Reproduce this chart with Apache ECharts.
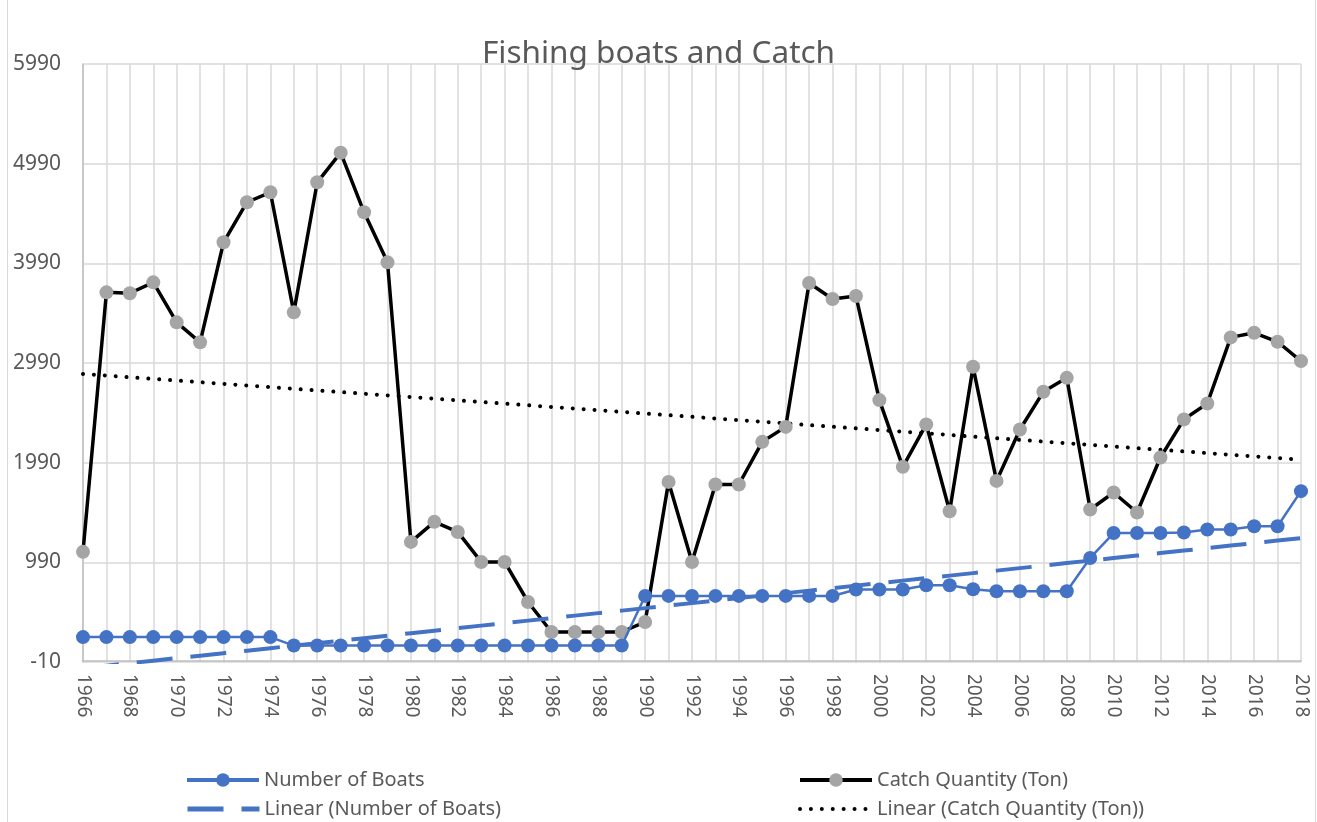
<!DOCTYPE html>
<html>
<head>
<meta charset="utf-8">
<script src="https://cdn.jsdelivr.net/npm/echarts@6/dist/echarts.min.js"></script>
<style>
  html, body { margin: 0; padding: 0; background: #fff; }
  #main { width: 1317px; height: 822px; }
</style>
</head>
<body>
<div id="main"></div>
<script>
// data
var years = [];
for (var y = 1966; y <= 2018; y++) years.push(String(y));

var boats = [
  240, 240, 240, 240, 240, 240, 240, 240, 240,
  155, 155, 155, 155, 155, 155, 155, 155, 155, 155, 155, 155, 155, 155, 155,
  653, 653, 653, 653, 653, 653, 653, 653, 653,
  717, 717, 717, 760, 760, 720, 700, 700, 700, 700,
  1034, 1284, 1284, 1284, 1290, 1320, 1320, 1352, 1352, 1704
];

var catchTon = [
  1095, 3699, 3690, 3799, 3398, 3197, 4201, 4603, 4703, 3498,
  4803, 5100, 4502, 4000, 1195, 1396, 1295, 994, 994, 592,
  291, 291, 291, 291, 392, 1797, 994, 1771, 1771, 2199,
  2349, 3792, 3632, 3662, 2618, 1948, 2374, 1503, 2952, 1807,
  2323, 2701, 2841, 1520, 1691, 1490, 2042, 2424, 2584, 3247,
  3293, 3203, 3009
];

// least squares trend, x = 1..n like the spreadsheet does
function linearTrend(vals) {
  var n = vals.length, sx = 0, sy = 0, sxy = 0, sxx = 0;
  for (var i = 0; i < n; i++) {
    var x = i + 1;
    sx += x; sy += vals[i]; sxy += x * vals[i]; sxx += x * x;
  }
  var b = (n * sxy - sx * sy) / (n * sxx - sx * sx);
  var a = (sy - b * sx) / n;
  return vals.map(function (v, i) { return a + b * (i + 1); });
}

var boatsTrend = linearTrend(boats);
var catchTrend = linearTrend(catchTon);

var txt = '#595959';
var fnt = '"Noto Sans", sans-serif';

var myChart = echarts.init(document.getElementById('main'));

function legendAt(name, left, top, lineW, hideSymbol) {
  var lg = {
    data: [name],
    left: left,
    top: top,
    itemWidth: 72,
    itemHeight: 17,
    itemGap: 4,
    padding: 0,
    lineStyle: { width: lineW },
    textStyle: { color: txt, fontSize: 20, fontFamily: fnt }
  };
  if (hideSymbol) lg.itemStyle = { color: 'rgba(0,0,0,0)', borderColor: 'rgba(0,0,0,0)' };
  return lg;
}

var option = {
  backgroundColor: '#fff',
  animation: false,
  title: {
    text: 'Fishing boats and Catch',
    left: 'center',
    top: 33,
    textStyle: { color: txt, fontSize: 31.5, fontWeight: 'normal', fontFamily: fnt }
  },
  graphic: [{
    type: 'rect',
    shape: { x: 7.5, y: -5, width: 1308, height: 840 },
    style: { fill: 'none', stroke: '#d9d9d9', lineWidth: 1 },
    silent: true
  }],
  legend: [
    legendAt('Number of Boats', 185, 770, 4, false),
    legendAt('Catch Quantity (Ton)', 798, 770, 4, false),
    legendAt('Linear (Number of Boats)', 185, 799, 5, true),
    legendAt('Linear (Catch Quantity (Ton))', 798, 799, 4, true)
  ],
  grid: { left: 83, right: 16, top: 64, bottom: 160 },
  xAxis: {
    type: 'category',
    data: years,
    boundaryGap: false,
    axisLine: { lineStyle: { color: '#bfbfbf', width: 1.5 } },
    axisTick: { show: false },
    axisLabel: {
      interval: 1,
      rotate: -90,
      margin: 12,
      color: txt,
      fontSize: 19,
      fontFamily: fnt
    },
    splitLine: { show: true, interval: 0, lineStyle: { color: '#d9d9d9', width: 1.5 } }
  },
  yAxis: {
    type: 'value',
    min: -10,
    max: 5990,
    interval: 1000,
    axisLine: { show: true, lineStyle: { color: '#bfbfbf', width: 1.5 } },
    axisTick: { show: false },
    axisLabel: {
      color: txt, fontSize: 21, fontFamily: fnt, margin: 22,
      formatter: function (v) { return String(v); }
    },
    splitLine: { lineStyle: { color: '#d9d9d9', width: 1.5 } }
  },
  series: [
    {
      name: 'Number of Boats',
      type: 'line',
      data: boats,
      symbol: 'circle',
      symbolSize: 14,
      z: 4,
      lineStyle: { color: '#4472c4', width: 2.5 },
      itemStyle: { color: '#4472c4' }
    },
    {
      name: 'Catch Quantity (Ton)',
      type: 'line',
      data: catchTon,
      symbol: 'circle',
      symbolSize: 14,
      z: 3,
      lineStyle: { color: '#000', width: 3.5 },
      itemStyle: { color: '#a5a5a5' }
    },
    {
      name: 'Linear (Number of Boats)',
      type: 'line',
      data: boatsTrend,
      symbol: 'none',
      z: 5,
      clip: true,
      lineStyle: { color: '#4472c4', width: 4, type: [36, 18] },
      itemStyle: { color: '#4472c4' }
    },
    {
      name: 'Linear (Catch Quantity (Ton))',
      type: 'line',
      data: catchTrend,
      symbol: 'none',
      z: 2,
      lineStyle: { color: '#000', width: 4, type: [0.01, 10.9], cap: 'round' },
      itemStyle: { color: '#000' }
    }
  ]
};

myChart.setOption(option);
window.onresize = myChart.resize;
</script>
</body>
</html>
